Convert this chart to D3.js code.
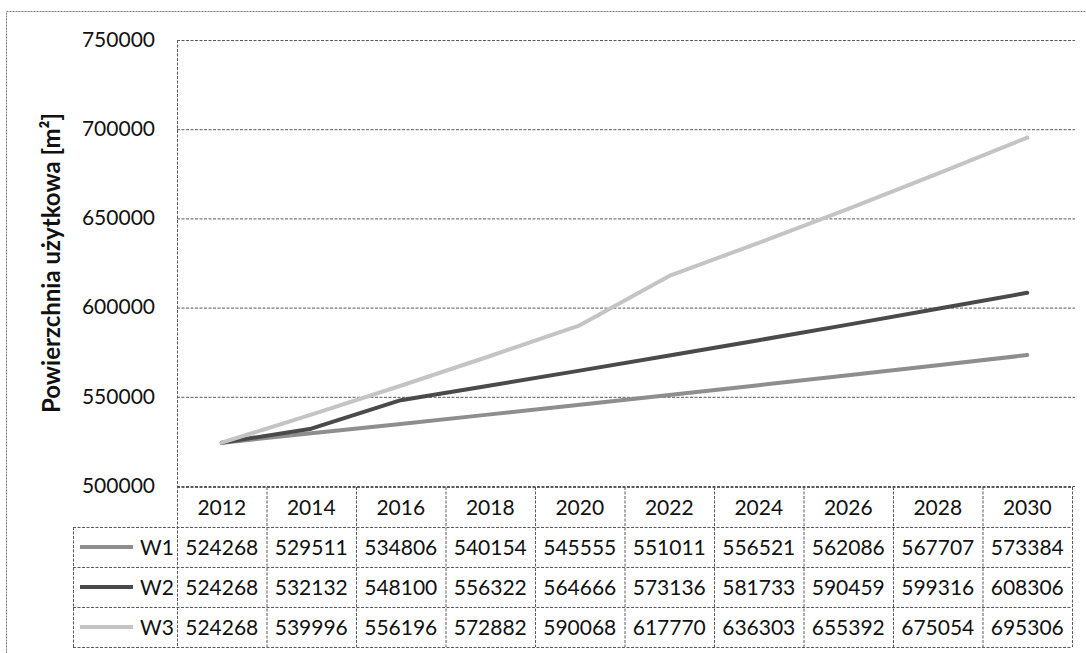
<!DOCTYPE html>
<html>
<head>
<meta charset="utf-8">
<script src="https://cdn.jsdelivr.net/npm/d3@7"></script>
<style>
html,body{margin:0;padding:0;background:#fff;}
svg{display:block;font-family:Lato,"Open Sans",sans-serif;}
</style>
</head>
<body>
<svg id="c" width="1086" height="653"></svg>
<script>
const years = ["2012","2014","2016","2018","2020","2022","2024","2026","2028","2030"];
const seriesNames = ["W1","W2","W3"];
const w1 = [524268,529511,534806,540154,545555,551011,556521,562086,567707,573384];
const w2 = [524268,532132,548100,556322,564666,573136,581733,590459,599316,608306];
const w3 = [524268,539996,556196,572882,590068,617770,636303,655392,675054,695306];
const yTicks = [500000,550000,600000,650000,700000,750000];
const seriesColors = ["#8e8e8e","#4a4a4a","#c4c4c4"];
const yTitle = "Powierzchnia użytkowa [m²]";

(function(){
const svg = d3.select("#c");
const pLeft = 177, pRight = 1072, pTop = 40, pBottom = 486;
const tableLeft = 73, tableBottom = 647;

const x = d3.scaleBand().domain(years).range([pLeft, pRight]);
const y = d3.scaleLinear().domain([500000, 750000]).range([pBottom, pTop]);
const rowScale = d3.scaleBand().domain(["hdr"].concat(seriesNames)).range([pBottom + 1, tableBottom]);

const gridStroke = "#5a5a5a";
const dash = "3,1.5";

// outer border
svg.append("rect").attr("x",6.5).attr("y",11.5).attr("width",1100).attr("height",700)
  .attr("fill","none").attr("stroke","#777").attr("stroke-dasharray","2,1");

// gridlines
const grid = svg.append("g").attr("transform",`translate(${pLeft},0)`)
  .call(d3.axisLeft(y).tickValues(yTicks).tickSize(-(pRight-pLeft+3)).tickFormat(""));
grid.select(".domain").remove();
grid.selectAll("line").attr("stroke",gridStroke).attr("stroke-dasharray",dash).attr("stroke-width",1);

// y labels
const yl = svg.append("g").attr("transform",`translate(155,0)`)
  .call(d3.axisLeft(y).tickValues(yTicks).tickSize(0).tickPadding(0).tickFormat(d3.format("d")));
yl.select(".domain").remove();
yl.selectAll("text").attr("font-size",21).attr("fill","#111").attr("font-family","Lato,'Open Sans',sans-serif").attr("dy","0.3em");

// plot left vertical line (extends through table)
svg.append("line").attr("x1",pLeft+0.5).attr("x2",pLeft+0.5).attr("y1",pTop).attr("y2",tableBottom)
  .attr("stroke",gridStroke).attr("stroke-dasharray",dash);

// y title
svg.append("text").attr("transform",`translate(60,263) rotate(-90)`)
  .attr("text-anchor","middle").attr("font-size",24).attr("font-weight","bold").attr("fill","#111")
  .text(yTitle);

// lines
const allSeries = [w1,w2,w3];
const line = d3.line().x((d,i)=>x(years[i])+x.bandwidth()/2).y(d=>y(d));
allSeries.forEach((s,k)=>{
  svg.append("path").datum(s).attr("d",line).attr("fill","none")
    .attr("stroke",seriesColors[k]).attr("stroke-width",4).attr("stroke-linejoin","round").attr("stroke-linecap","round");
});

// table
const tg = svg.append("g");
rowScale.domain().forEach((r,i)=>{
  const y0 = rowScale(r);
  const xs = i===0 ? pLeft : tableLeft;
  tg.append("line").attr("x1",xs).attr("x2",pRight).attr("y1",y0+0.5).attr("y2",y0+0.5)
    .attr("stroke",gridStroke).attr("stroke-dasharray",dash);
});
tg.append("line").attr("x1",tableLeft).attr("x2",pRight).attr("y1",tableBottom+0.5).attr("y2",tableBottom+0.5)
  .attr("stroke",gridStroke).attr("stroke-dasharray",dash);
years.forEach(yr=>{
  const xx = x(yr)+x.bandwidth();
  tg.append("line").attr("x1",xx+0.5).attr("x2",xx+0.5).attr("y1",pBottom+1).attr("y2",tableBottom)
    .attr("stroke",gridStroke).attr("stroke-dasharray",dash);
});
tg.append("line").attr("x1",tableLeft+0.5).attr("x2",tableLeft+0.5).attr("y1",rowScale("W1")).attr("y2",tableBottom)
  .attr("stroke",gridStroke).attr("stroke-dasharray",dash);

years.forEach(yr=>{
  tg.append("text").attr("x",x(yr)+x.bandwidth()/2).attr("y",rowScale("hdr")+rowScale.bandwidth()/2)
    .attr("dy","0.36em").attr("text-anchor","middle").attr("font-size",21).attr("fill","#111").text(yr);
});
seriesNames.forEach((nm,k)=>{
  const cy = rowScale(nm)+rowScale.bandwidth()/2;
  tg.append("line").attr("x1",80).attr("x2",133).attr("y1",cy).attr("y2",cy)
    .attr("stroke",seriesColors[k]).attr("stroke-width",4);
  tg.append("text").attr("x",174).attr("y",cy).attr("dy","0.36em").attr("text-anchor","end")
    .attr("font-size",21).attr("fill","#111").text(nm);
  allSeries[k].forEach((v,i)=>{
    tg.append("text").attr("x",x(years[i])+x.bandwidth()/2).attr("y",cy).attr("dy","0.36em")
      .attr("text-anchor","middle").attr("font-size",21).attr("fill","#111").text(v);
  });
});
})();
</script>
</body>
</html>
